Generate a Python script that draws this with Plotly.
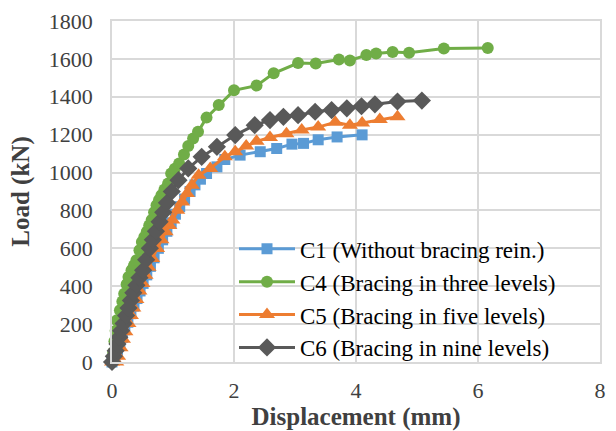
import plotly.graph_objects as go

# C1 (Without bracing rein.)
c1_x = [0, 0.05, 0.09, 0.13, 0.17, 0.21, 0.26, 0.31, 0.36, 0.41, 0.46, 0.51, 0.57, 0.63, 0.69,
        0.76, 0.83, 0.90, 0.97, 1.04, 1.11, 1.19, 1.28, 1.36, 1.45, 1.55, 1.72, 1.85, 2.10, 2.43,
        2.70, 2.95, 3.14, 3.38, 3.69, 4.10]
c1_y = [0, 15, 50, 90, 130, 170, 210, 255, 295, 335, 375, 415, 460, 505, 550,
        600, 645, 690, 735, 780, 820, 860, 900, 935, 965, 995, 1030, 1069, 1092, 1110,
        1127, 1150, 1154, 1173, 1188, 1199]

# C4 (Bracing in three levels)
c4_x = [0, 0.02, 0.04, 0.06, 0.08, 0.13, 0.17, 0.20, 0.24, 0.27, 0.32, 0.36, 0.40, 0.45, 0.49,
        0.53, 0.57, 0.61, 0.65, 0.69, 0.73, 0.77, 0.81, 0.86, 0.92, 0.97, 1.03, 1.10, 1.18, 1.25,
        1.33, 1.41, 1.55, 1.75, 2.00, 2.37, 2.65, 3.05, 3.34, 3.72, 3.90, 4.17, 4.33, 4.60, 4.87,
        5.44, 6.16]
c4_y = [0, 50, 110, 165, 220, 273, 320, 360, 410, 449, 484, 510, 537, 590, 634,
        660, 687, 720, 749, 790, 828, 855, 880, 910, 942, 995, 1020, 1048, 1095, 1140,
        1180, 1215, 1290, 1356, 1434, 1459, 1524, 1578, 1576, 1597, 1592, 1620, 1628, 1636, 1632,
        1655, 1658]

# C5 (Bracing in five levels)
c5_x = [0, 0.07, 0.10, 0.14, 0.18, 0.22, 0.27, 0.31, 0.35, 0.40, 0.45, 0.50, 0.55, 0.60, 0.66,
        0.74, 0.81, 0.88, 0.94, 0.99, 1.07, 1.15, 1.23, 1.31, 1.42, 1.61, 1.85, 2.02, 2.20, 2.37,
        2.59, 2.86, 3.11, 3.38, 3.66, 3.90, 4.10, 4.39, 4.68]
c5_y = [0, 0, 30, 75, 120, 160, 203, 245, 285, 330, 375, 415, 458, 500, 546,
        599, 645, 687, 720, 749, 801, 845, 890, 933, 986, 1022, 1083, 1110, 1140, 1165,
        1185, 1205, 1225, 1240, 1265, 1250, 1262, 1280, 1295]

# C6 (Bracing in nine levels)
c6_x = [0, 0.03, 0.06, 0.09, 0.12, 0.15, 0.19, 0.23, 0.27, 0.31, 0.35, 0.40, 0.45, 0.51, 0.56,
        0.62, 0.67, 0.72, 0.78, 0.84, 0.90, 0.98, 1.09, 1.25, 1.47, 1.72, 2.02, 2.34, 2.59, 2.81,
        3.05, 3.33, 3.60, 3.85, 4.09, 4.31, 4.68, 5.08]
c6_y = [0, 30, 60, 95, 130, 165, 203, 245, 285, 325, 365, 405, 445, 484, 540,
        600, 645, 690, 740, 790, 840, 900, 960, 1022, 1083, 1136, 1198, 1250, 1277, 1294,
        1303, 1321, 1330, 1339, 1350, 1360, 1375, 1380]

series = [
    ("C1 (Without bracing rein.)", c1_x, c1_y, "#5B9BD5", "square", 11),
    ("C4 (Bracing in three levels)", c4_x, c4_y, "#70AD47", "circle", 12),
    ("C5 (Bracing in five levels)", c5_x, c5_y, "#ED7D31", "triangle-up", 14),
    ("C6 (Bracing in nine levels)", c6_x, c6_y, "#595959", "diamond", 14),
]

fig = go.Figure()
for name, xs, ys, color, sym, size in series:
    fig.add_trace(go.Scatter(
        x=xs, y=ys, name=name, mode="lines+markers",
        line=dict(color=color, width=3),
        marker=dict(color=color, symbol=sym, size=size),
        cliponaxis=False,
    ))

font_family = "'Times New Roman', 'Liberation Serif', serif"
grid = "#d9d9d9"

fig.update_layout(
    width=616, height=431,
    margin=dict(l=112, r=16, t=21, b=69),
    paper_bgcolor="white", plot_bgcolor="white",
    font=dict(family=font_family, color="#404040", size=22),
    showlegend=True,
    legend=dict(
        x=0.25, y=0.395, xanchor="left", yanchor="top",
        bgcolor="rgba(0,0,0,0)", borderwidth=0,
        font=dict(family=font_family, size=23, color="#000000"),
        itemwidth=56, tracegroupgap=0,
    ),
)
fig.update_xaxes(
    range=[0, 8], dtick=2, tick0=0, automargin=False,
    showgrid=True, gridcolor=grid, gridwidth=1.5,
    showline=True, linecolor=grid, linewidth=1.5, mirror=True,
    zeroline=False, ticks="", ticklabelstandoff=8,
    tickfont=dict(family=font_family, size=22, color="#404040"),
    title=dict(text="<b>Displacement (mm)</b>", standoff=6,
               font=dict(family=font_family, size=25, color="#404040")),
)
fig.update_yaxes(
    range=[0, 1800], dtick=200, tick0=0, automargin=False,
    showgrid=True, gridcolor=grid, gridwidth=1.5,
    showline=True, linecolor=grid, linewidth=1.5, mirror=True,
    zeroline=False, ticks="", ticklabelstandoff=13,
    tickfont=dict(family=font_family, size=22, color="#404040"),
    title=dict(text="<b>Load (kN)</b>", standoff=12,
               font=dict(family=font_family, size=25, color="#404040")),
)

fig.write_html("out.html")
